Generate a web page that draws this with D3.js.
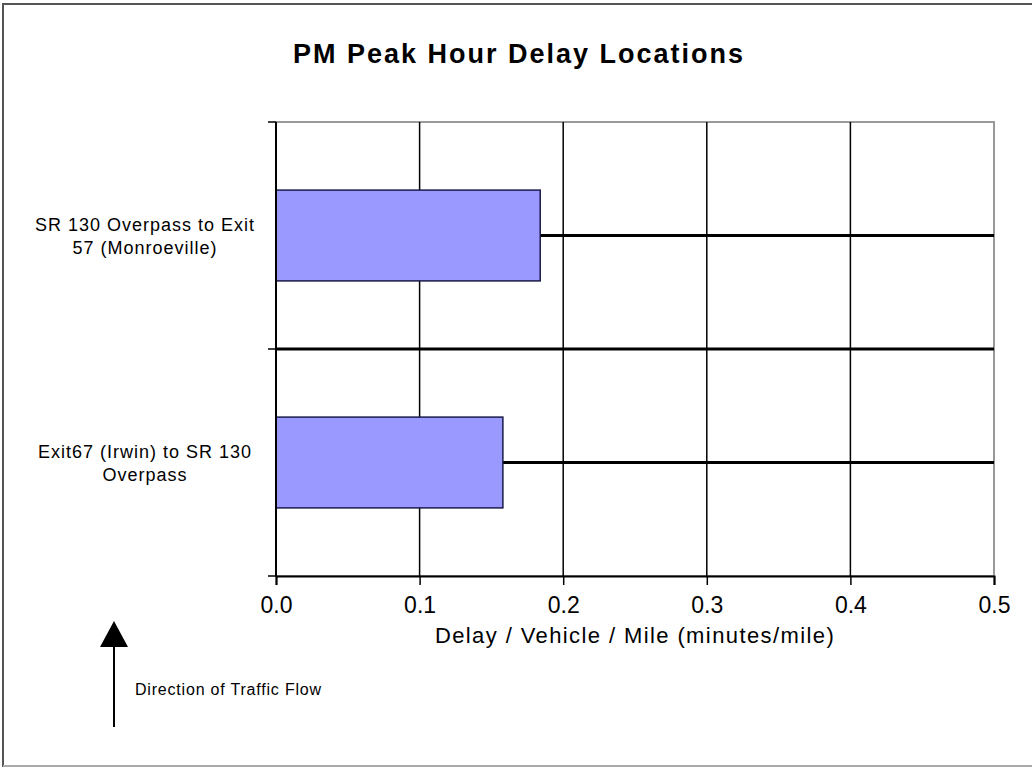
<!DOCTYPE html>
<html>
<head>
<meta charset="utf-8">
<script src="https://cdn.jsdelivr.net/npm/d3@7"></script>
<style>
  body { margin: 0; background: #fff; }
  text { font-family: "Liberation Sans", Arial, sans-serif; }
</style>
</head>
<body>
<div id="chart"></div>
<script>
// data
let categories = ["SR 130 Overpass to Exit 57 (Monroeville)", "Exit67 (Irwin) to SR 130 Overpass"];
let labelLines = [["SR 130 Overpass  to Exit", "57 (Monroeville)"], ["Exit67 (Irwin) to SR 130", "Overpass"]];
let delays = [0.184, 0.158];
let xTicks = [0.0, 0.1, 0.2, 0.3, 0.4, 0.5];

let width = 1032, height = 769;
let plot = { left: 276, right: 994, top: 122, bottom: 576 };

let svg = d3.select("#chart")
  .append("svg")
  .attr("width", width)
  .attr("height", height);

// outer frame
svg.append("rect")
  .attr("x", 3).attr("y", 4)
  .attr("width", 1040).attr("height", 762)
  .attr("fill", "#fff")
  .attr("stroke", "#555")
  .attr("stroke-width", 2);
svg.append("line")
  .attr("x1", 3).attr("x2", 1032).attr("y1", 766).attr("y2", 766)
  .attr("stroke", "#aaa").attr("stroke-width", 2);

let x = d3.scaleLinear().domain([0, 0.5]).range([plot.left, plot.right]);
let y = d3.scaleBand().domain(categories).range([plot.top, plot.bottom])
  .paddingInner(0).paddingOuter(0);
let barH = y.bandwidth() / 2.5;

// plot border (gray)
svg.append("rect")
  .attr("x", plot.left).attr("y", plot.top)
  .attr("width", plot.right - plot.left).attr("height", plot.bottom - plot.top)
  .attr("fill", "none").attr("stroke", "#999").attr("stroke-width", 2);

// vertical gridlines
svg.selectAll(".vgrid")
  .data(xTicks.slice(1, -1))
  .enter().append("line")
  .attr("x1", d => x(d)).attr("x2", d => x(d))
  .attr("y1", plot.top).attr("y2", plot.bottom)
  .attr("stroke", "#000").attr("stroke-width", 1.5);

// horizontal lines at category centers and boundary
svg.selectAll(".hcenter")
  .data(categories)
  .enter().append("line")
  .attr("x1", plot.left).attr("x2", plot.right)
  .attr("y1", d => y(d) + y.bandwidth() / 2).attr("y2", d => y(d) + y.bandwidth() / 2)
  .attr("stroke", "#000").attr("stroke-width", 3);
svg.append("line")
  .attr("x1", plot.left).attr("x2", plot.right)
  .attr("y1", y(categories[1])).attr("y2", y(categories[1]))
  .attr("stroke", "#000").attr("stroke-width", 3);

// bars
svg.selectAll(".bar")
  .data(delays)
  .enter().append("rect")
  .attr("x", x(0))
  .attr("y", (d, i) => y(categories[i]) + (y.bandwidth() - barH) / 2)
  .attr("width", d => x(d) - x(0))
  .attr("height", barH)
  .attr("fill", "#9999ff")
  .attr("stroke", "#1a1a4a")
  .attr("stroke-width", 1.5);

// x axis
let xAxis = svg.append("g")
  .attr("transform", "translate(0," + plot.bottom + ")")
  .call(d3.axisBottom(x).tickValues(xTicks).tickFormat(d3.format(".1f")).tickSize(9).tickPadding(12));
xAxis.select(".domain").attr("stroke", "#000").attr("stroke-width", 2);
xAxis.selectAll(".tick line").attr("stroke", "#000").attr("stroke-width", 1.5);
xAxis.selectAll("text")
  .attr("font-family", "Liberation Sans, Arial, sans-serif")
  .attr("font-size", 23).attr("fill", "#000");

// y axis
let yAxis = svg.append("g")
  .attr("transform", "translate(" + plot.left + ",0)");
yAxis.append("line")
  .attr("x1", 0).attr("x2", 0).attr("y1", plot.top).attr("y2", plot.bottom)
  .attr("stroke", "#000").attr("stroke-width", 2);
yAxis.selectAll(".ytick")
  .data([plot.top, y(categories[1]), plot.bottom])
  .enter().append("line")
  .attr("x1", -8).attr("x2", 0)
  .attr("y1", d => d).attr("y2", d => d)
  .attr("stroke", "#000").attr("stroke-width", 1.5);

// category labels
svg.selectAll(".ylabel")
  .data(categories)
  .enter().append("text")
  .attr("text-anchor", "middle")
  .attr("font-size", 18)
  .attr("letter-spacing", 1)
  .attr("fill", "#000")
  .each(function (d, i) {
    let t = d3.select(this);
    let cy = y(d) + y.bandwidth() / 2;
    labelLines[i].forEach((ln, k) => {
      t.append("tspan")
        .attr("x", 145)
        .attr("y", cy - 5 + k * 23)
        .text(ln);
    });
  });

// title
svg.append("text")
  .attr("x", 519).attr("y", 63)
  .attr("text-anchor", "middle")
  .attr("font-size", 27).attr("font-weight", "bold")
  .attr("letter-spacing", 2)
  .text("PM Peak Hour Delay Locations");

// axis title
svg.append("text")
  .attr("x", 635).attr("y", 643)
  .attr("text-anchor", "middle")
  .attr("font-size", 22)
  .attr("letter-spacing", 1.4)
  .text("Delay / Vehicle / Mile (minutes/mile)");

// direction arrow
svg.append("line")
  .attr("x1", 114).attr("x2", 114).attr("y1", 640).attr("y2", 727)
  .attr("stroke", "#000").attr("stroke-width", 2);
svg.append("path")
  .attr("d", "M114,621 L128,647 L100,647 Z")
  .attr("fill", "#000");
svg.append("text")
  .attr("x", 135).attr("y", 695)
  .attr("font-size", 16)
  .attr("letter-spacing", 0.8)
  .text("Direction of Traffic Flow");
</script>
</body>
</html>
